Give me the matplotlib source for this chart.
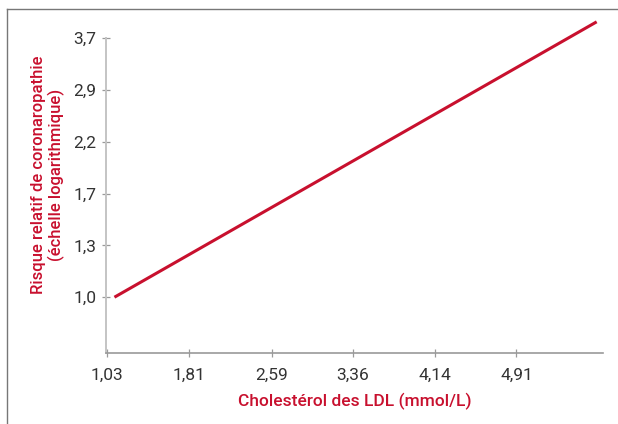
#!/usr/bin/env python3
"""LDL cholesterol vs relative coronary risk (log scale)."""
import matplotlib
matplotlib.use("Agg")
import matplotlib.pyplot as plt
from matplotlib.lines import Line2D
from matplotlib.ticker import FixedLocator, NullLocator

# data
ldl_mmol = [1.10, 5.67]
rel_risk = [1.0, 4.03]
x_ticks = [1.03, 1.81, 2.59, 3.36, 4.14, 4.91]
y_ticks = [1.0, 1.3, 1.69, 2.197, 2.856, 3.713]
y_tick_labels = ["1,0", "1,3", "1,7", "2,2", "2,9", "3,7"]

RED = "#c8102e"
FONT = ["Roboto", "DejaVu Sans"]

plt.rcParams["font.family"] = FONT

fig = plt.figure(figsize=(6.18, 4.24), dpi=100)
ax = fig.add_axes([106 / 618, 71 / 424, 497 / 618, 315 / 424])

ax.plot(ldl_mmol, rel_risk, color=RED, lw=2.2, clip_on=False, solid_capstyle="butt")

ax.set_yscale("log")
ax.set_xlim(1.02, 5.73)
ax.set_ylim(0.754, 3.713)

ax.xaxis.set_major_locator(FixedLocator(x_ticks))
ax.set_xticklabels([f"{v:.2f}".replace(".", ",") for v in x_ticks])
ax.yaxis.set_major_locator(FixedLocator(y_ticks))
ax.yaxis.set_minor_locator(NullLocator())
ax.set_yticklabels(y_tick_labels)

for s in ("top", "right"):
    ax.spines[s].set_visible(False)
ax.spines["left"].set_color("#c4c4c4")
ax.spines["left"].set_linewidth(1.4)
ax.spines["bottom"].set_color("#9a9a9a")
ax.spines["bottom"].set_linewidth(1.2)

ax.tick_params(axis="both", direction="inout", length=6, width=0.9,
               color="#9a9a9a", labelcolor="#333333", labelsize=12.5)
ax.tick_params(axis="x", pad=8)
ax.tick_params(axis="y", pad=4)

ax.set_xlabel("Cholestérol des LDL (mmol/L)", color=RED, fontsize=12.5,
              fontweight="medium", labelpad=7)
ax.set_ylabel("Risque relatif de coronaropathie\n(échelle logarithmique)",
              color=RED, fontsize=12, fontweight="medium",
              linespacing=1.15)
ax.yaxis.set_label_coords(-0.083, 0.565)

# outer frame (top and left edges)
fig.add_artist(Line2D([6.5 / 618, 1.0], [415 / 424, 415 / 424], color="#777777", lw=1.0))
fig.add_artist(Line2D([6.5 / 618, 6.5 / 618], [0.0, 415 / 424], color="#777777", lw=1.0))

fig.savefig("out.png", dpi=100)
